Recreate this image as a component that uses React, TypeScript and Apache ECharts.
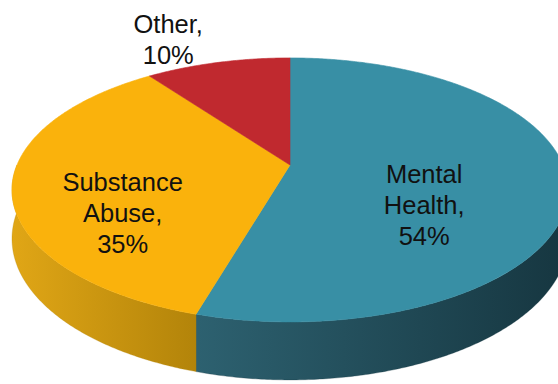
import React, { useEffect, useRef } from "react";
import * as echarts from "echarts";

// ---- data ----
const categories: string[] = ["Mental Health", "Substance Abuse", "Other"];
const values: number[] = [54, 35, 10];

// ---- styles / layout (not data) ----
const topColors = ["#388fa5", "#fab20c", "#c0292f"];
const sideColors: [string, string][] = [
  ["#2d6170", "#163640"],
  ["#e0a616", "#b3840a"],
  ["#9a1f24", "#6e1418"],
];
const labelRadius = [0.49, 0.61, 1.3];
const labelShift: [number, number][] = [
  [0, 31],
  [0, 34.5],
  [-32, 1.5],
];

const CX = 290;
const CY = 165;
const RX = 273;
const RY = 127.3;
const PERSP = 0.189;
const DEPTH = 47;

const total = values.reduce((s, v) => s + v, 0);
const starts: number[] = [];
const ends: number[] = [];
{
  let acc = 0;
  values.forEach((v) => {
    starts.push((acc / total) * 360);
    acc += v;
    ends.push((acc / total) * 360);
  });
}

function project(r: number, theta: number, drop: boolean): number[] {
  const t = (theta * Math.PI) / 180;
  const u = r * Math.sin(t);
  const v = r * Math.cos(t);
  const d = 1 + PERSP * v;
  return [CX + (RX * u) / d, CY - (RY * v) / d + (drop ? DEPTH / d : 0)];
}

function arc(a: number, b: number, drop: boolean): number[][] {
  const n = Math.max(2, Math.ceil((b - a) / 0.5));
  const pts: number[][] = [];
  for (let i = 0; i <= n; i++) pts.push(project(1, a + ((b - a) * i) / n, drop));
  return pts;
}

function labelText(i: number): string {
  const words = categories[i].split(" ");
  words[words.length - 1] += ",";
  return [...words, `${values[i]}%`].join("\n");
}

export default function App() {
  const ref = useRef<HTMLDivElement>(null);
  useEffect(() => {
    if (!ref.current) return;
    const chart = echarts.init(ref.current, undefined, { renderer: "svg" });
    const option: any = {
      animation: false,
      backgroundColor: "#ffffff",
      series: [
        {
          type: "custom",
          name: "sides",
          coordinateSystem: "none",
          silent: true,
          z: 1,
          data: values,
          renderItem: (params: any) => {
            const i = params.dataIndex;
            const lo = Math.max(starts[i], 90);
            const hi = Math.min(ends[i], 270);
            if (lo >= hi) return { type: "group", children: [] };
            const pts = arc(lo, hi, false).concat(arc(lo, hi, true).reverse());
            return {
              type: "polygon",
              shape: { points: pts },
              style: {
                fill: {
                  type: "linear",
                  x: 0,
                  y: 0,
                  x2: 1,
                  y2: 0,
                  colorStops: [
                    { offset: 0, color: sideColors[i][0] },
                    { offset: 1, color: sideColors[i][1] },
                  ],
                },
                stroke: sideColors[i][1],
                lineWidth: 0.3,
              },
            };
          },
        },
        {
          type: "custom",
          name: "tops",
          coordinateSystem: "none",
          silent: true,
          z: 2,
          data: values,
          renderItem: (params: any) => {
            const i = params.dataIndex;
            const pts = [[CX, CY]].concat(arc(starts[i], ends[i], false));
            return {
              type: "polygon",
              shape: { points: pts },
              style: { fill: topColors[i], stroke: topColors[i], lineWidth: 0.6 },
            };
          },
        },
        {
          type: "custom",
          name: "labels",
          coordinateSystem: "none",
          silent: true,
          z: 3,
          data: values,
          renderItem: (params: any) => {
            const i = params.dataIndex;
            const mid = (starts[i] + ends[i]) / 2;
            const p = project(labelRadius[i], mid, false);
            return {
              type: "text",
              x: p[0] + labelShift[i][0],
              y: p[1] + labelShift[i][1],
              style: {
                text: labelText(i),
                fill: "#111111",
                fontSize: 25.5,
                fontFamily: "'Liberation Sans', Arial, sans-serif",
                align: "center",
                verticalAlign: "middle",
                lineHeight: 31,
              },
            };
          },
        },
      ],
    };
    chart.setOption(option);
    return () => chart.dispose();
  }, []);
  return (
    <div
      ref={ref}
      style={{ position: "absolute", left: 0, top: 0, width: 558, height: 384 }}
    />
  );
}
